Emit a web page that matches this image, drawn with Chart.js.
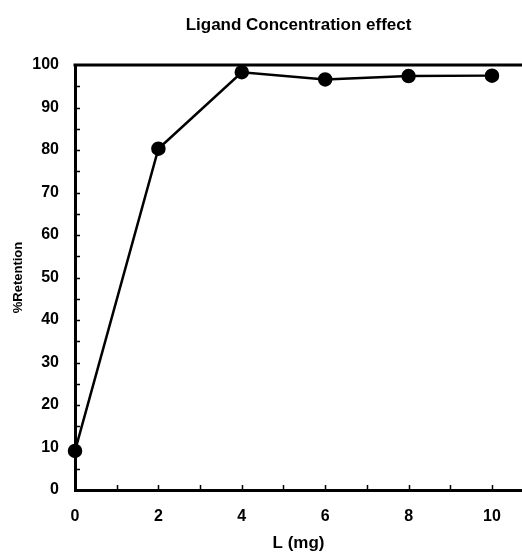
<!DOCTYPE html>
<html>
<head>
<meta charset="utf-8">
<script src="https://cdn.jsdelivr.net/npm/chart.js@4/dist/chart.umd.min.js"></script>
<style>
  html, body { margin: 0; padding: 0; background: #fff; overflow: hidden; }
  #wrap { width: 522px; height: 552px; }
</style>
</head>
<body>
<div id="wrap"><canvas id="chart" width="522" height="552"></canvas></div>
<script>
// data
const ligandMg = [0, 2, 4, 6, 8, 10];
const retention = [9.2, 80.3, 98.3, 96.6, 97.4, 97.5];

const xTickLabels = [0, 2, 4, 6, 8, 10];
const yTickLabels = [0, 10, 20, 30, 40, 50, 60, 70, 80, 90, 100];
const xSmallTicks = [1, 2, 3, 4, 5, 6, 7, 8, 9, 10];
const ySmallTicks = [5, 10, 15, 20, 25, 30, 35, 40, 45, 50, 55, 60, 65, 70, 75, 80, 85, 90, 95];

const FONT = "'Liberation Sans', Arial, sans-serif";

// tick marks point inward, and the frame has a top edge but no right one
const innerTicks = {
  id: "innerTicks",
  afterDraw(chart) {
    const { ctx, chartArea, scales } = chart;
    const x = scales.x, y = scales.y;
    ctx.save();
    ctx.strokeStyle = "#000";
    ctx.lineWidth = 1.5;
    ctx.beginPath();
    xSmallTicks.forEach(v => {
      const px = Math.round(x.getPixelForValue(v)) + 0.5;
      ctx.moveTo(px, chartArea.bottom);
      ctx.lineTo(px, chartArea.bottom - 5);
    });
    ySmallTicks.forEach(v => {
      const py = Math.round(y.getPixelForValue(v)) + 0.5;
      ctx.moveTo(chartArea.left, py);
      ctx.lineTo(chartArea.left + 5, py);
    });
    ctx.stroke();
    ctx.lineWidth = 3;
    ctx.beginPath();
    const top = y.getPixelForValue(100);
    ctx.moveTo(chartArea.left - 1.5, top);
    ctx.lineTo(chartArea.right, top);
    ctx.stroke();
    ctx.restore();
  }
};

new Chart(document.getElementById("chart"), {
  type: "scatter",
  data: {
    datasets: [{
      data: ligandMg.map((v, i) => ({ x: v, y: retention[i] })),
      showLine: true,
      borderColor: "#000",
      backgroundColor: "#000",
      borderWidth: 2.5,
      pointRadius: 6,
      pointHoverRadius: 6,
      clip: false
    }]
  },
  options: {
    responsive: false,
    animation: false,
    layout: { padding: 0, autoPadding: false },
    plugins: {
      legend: { display: false },
      tooltip: { enabled: false },
      title: {
        display: true,
        text: "Ligand Concentration effect",
        color: "#000",
        fullSize: false,
        font: { family: FONT, size: 17, weight: "bold", lineHeight: 1.2 },
        padding: { top: 15, bottom: 29.6 }
      }
    },
    scales: {
      x: {
        type: "linear",
        min: 0,
        max: 10.72,
        afterBuildTicks: s => { s.ticks = xTickLabels.map(v => ({ value: v })); },
        afterFit: s => { s.height = 62; s.paddingRight = 0; },
        grid: { display: false, drawTicks: false },
        border: { display: true, color: "#000", width: 3 },
        ticks: {
          color: "#000",
          padding: 17,
          maxRotation: 0,
          font: { family: FONT, size: 16, weight: "bold" }
        },
        title: {
          display: true,
          text: "L (mg)",
          color: "#000",
          font: { family: FONT, size: 17, weight: "bold", lineHeight: 1 },
          padding: { top: 0, bottom: 0 }
        }
      },
      y: {
        min: 0,
        max: 100,
        afterBuildTicks: s => { s.ticks = yTickLabels.map(v => ({ value: v })); },
        afterFit: s => { s.width = 75; },
        grid: { display: false, drawTicks: false },
        border: { display: true, color: "#000", width: 3 },
        ticks: {
          color: "#000",
          padding: 16,
          font: { family: FONT, size: 16, weight: "bold" }
        },
        title: {
          display: true,
          text: "%Retention",
          color: "#000",
          font: { family: FONT, size: 13, weight: "bold", lineHeight: 1.2 },
          padding: { top: 11, bottom: 0 }
        }
      }
    }
  },
  plugins: [innerTicks]
});
</script>
</body>
</html>
